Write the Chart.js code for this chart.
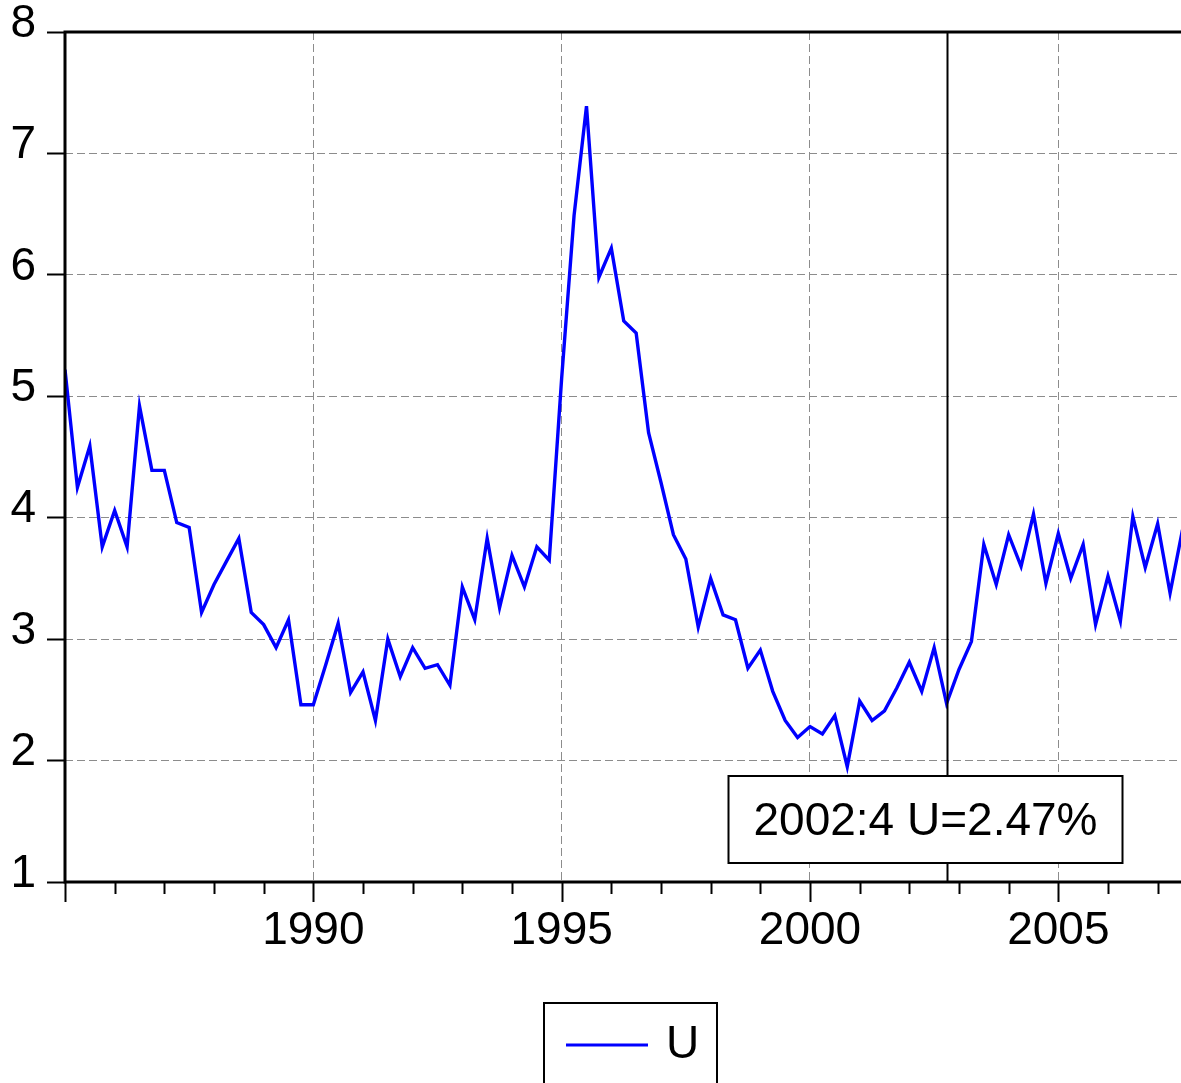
<!DOCTYPE html>
<html lang="en">
<head>
    <meta charset="UTF-8">
    <title>U</title>
    <script src="https://cdn.jsdelivr.net/npm/chart.js"></script>
    <style>
        html, body { margin: 0; padding: 0; background: #fff; overflow: hidden; }
        #wrap { width: 1181px; height: 1083px; position: relative; }
    </style>
</head>
<body>
    <div id="wrap"><canvas id="myChart"></canvas></div>
    <script>
        // quarterly series, starts 1985:1
        const startYear = 1985;
        const seriesName = 'U';
        const uValues = [
            5.22, 4.25, 4.59, 3.76,  4.06, 3.76, 4.92, 4.39,  4.39, 3.96, 3.92, 3.22,
            3.45, 3.64, 3.83, 3.22,  3.12, 2.93, 3.16, 2.46,  2.46, 2.79, 3.13, 2.56,
            2.73, 2.33, 3.00, 2.69,  2.93, 2.76, 2.79, 2.62,  3.43, 3.16, 3.83, 3.26,
            3.69, 3.43, 3.76, 3.65,  5.15, 6.49, 7.39, 5.98,  6.22, 5.62, 5.52, 4.70,
            4.29, 3.86, 3.66, 3.10,  3.50, 3.20, 3.16, 2.76,  2.91, 2.57, 2.33, 2.19,
            2.28, 2.22, 2.37, 1.95,  2.49, 2.33, 2.41, 2.60,  2.81, 2.57, 2.93, 2.47,
            2.75, 2.98, 3.78, 3.45,  3.86, 3.60, 4.03, 3.46,  3.87, 3.50, 3.78, 3.12,
            3.52, 3.15, 4.01, 3.59,  3.95, 3.38, 3.90
        ];
        const quarterLabels = uValues.map((v, i) => (startYear + Math.floor(i / 4)) + ':' + (i % 4 + 1));
        const xLabelYears = [1990, 1995, 2000, 2005];
        const yTicks = [1, 2, 3, 4, 5, 6, 7, 8];
        const markLabel = '2002:4';

        const FONT = "'Liberation Sans', Arial, sans-serif";

        function quarterToX(label) {
            const parts = label.split(':');
            return parseInt(parts[0]) + (parseInt(parts[1]) - 1) / 4;
        }

        const points = quarterLabels.map((q, i) => ({ x: quarterToX(q), y: uValues[i] }));
        const markIndex = quarterLabels.indexOf(markLabel);

        const extras = {
            id: 'extras',
            afterDatasetsDraw(chart) {
                const ctx = chart.ctx;
                const a = chart.chartArea;
                const xs = chart.scales.x;
                ctx.save();

                // marker line at the selected quarter
                const mx = Math.round(xs.getPixelForValue(points[markIndex].x)) + 0.5;
                ctx.strokeStyle = '#000';
                ctx.lineWidth = 2;
                ctx.beginPath();
                ctx.moveTo(mx, a.top);
                ctx.lineTo(mx, a.bottom);
                ctx.stroke();

                // label box
                const bw = 394, bh = 87;
                const bx = mx - 219, by = a.bottom - 19 - bh;
                ctx.fillStyle = '#fff';
                ctx.fillRect(bx, by, bw, bh);
                ctx.lineWidth = 2;
                ctx.strokeRect(bx, by, bw, bh);
                ctx.fillStyle = '#000';
                ctx.font = '46px ' + FONT;
                ctx.textAlign = 'center';
                ctx.textBaseline = 'alphabetic';
                ctx.fillText(markLabel + ' ' + seriesName + '=' + uValues[markIndex].toFixed(2) + '%', bx + bw / 2, by + 59);

                // frame: top, left, bottom
                ctx.lineWidth = 3;
                ctx.beginPath();
                ctx.moveTo(a.right + 2, a.top);
                ctx.lineTo(a.left, a.top);
                ctx.lineTo(a.left, a.bottom);
                ctx.lineTo(a.right + 2, a.bottom);
                ctx.stroke();

                // x tick marks, longer on labelled years
                ctx.lineWidth = 2;
                xs.ticks.forEach(t => {
                    const px = Math.round(xs.getPixelForValue(t.value)) + 0.5;
                    const len = t.value % 5 === 0 ? 20 : 12;
                    ctx.beginPath();
                    ctx.moveTo(px, a.bottom);
                    ctx.lineTo(px, a.bottom + len);
                    ctx.stroke();
                });

                // legend
                const ds = chart.data.datasets[0];
                const lx = 544, ly = 1003;
                ctx.lineWidth = 2;
                ctx.strokeRect(lx, ly, 173, 120);
                ctx.strokeStyle = ds.borderColor;
                ctx.lineWidth = 3;
                ctx.beginPath();
                ctx.moveTo(lx + 22, 1045);
                ctx.lineTo(lx + 104, 1045);
                ctx.stroke();
                ctx.fillStyle = '#000';
                ctx.textAlign = 'left';
                ctx.fillText(ds.label, lx + 122, 1058);

                ctx.restore();
            }
        };

        const ctx = document.getElementById('myChart');
        new Chart(ctx, {
            type: 'line',
            data: {
                datasets: [{
                    label: seriesName,
                    data: points,
                    borderColor: '#0000ff',
                    borderWidth: 3.4,
                    pointRadius: 0,
                    tension: 0
                }]
            },
            options: {
                responsive: true,
                maintainAspectRatio: false,
                animation: false,
                layout: { padding: { top: 32, left: 0, right: 0, bottom: 0 } },
                scales: {
                    x: {
                        type: 'linear',
                        min: startYear,
                        max: 2007.47,
                        ticks: {
                            stepSize: 1,
                            includeBounds: false,
                            autoSkip: false,
                            maxRotation: 0,
                            padding: 26,
                            color: '#000',
                            font: { family: FONT, size: 46, lineHeight: 1 },
                            callback: v => xLabelYears.includes(v) ? String(v) : ''
                        },
                        grid: {
                            drawTicks: false,
                            lineWidth: 1,
                            color: c => (c.tick && c.tick.value % 5 === 0) ? '#8c8c8c' : 'rgba(0,0,0,0)'
                        },
                        border: { display: false, dash: [8, 4] },
                        afterFit: s => { s.height = 201; s.paddingLeft = 0; s.paddingRight = 0; }
                    },
                    y: {
                        min: yTicks[0],
                        max: yTicks[yTicks.length - 1],
                        afterBuildTicks: s => { s.ticks = yTicks.map(v => ({ value: v })); },
                        ticks: {
                            padding: 11,
                            labelOffset: -8,
                            color: '#000',
                            font: { family: FONT, size: 46, lineHeight: 0.8 }
                        },
                        grid: {
                            color: '#8c8c8c',
                            lineWidth: 1,
                            tickColor: '#000',
                            tickLength: 18,
                            tickWidth: 2,
                            tickBorderDash: []
                        },
                        border: { display: false, dash: [8, 4] },
                        afterFit: s => { s.width = 65; s.paddingTop = 0; s.paddingBottom = 0; }
                    }
                },
                plugins: {
                    legend: { display: false },
                    tooltip: { enabled: false }
                }
            },
            plugins: [extras]
        });
    </script>
</body>
</html>
